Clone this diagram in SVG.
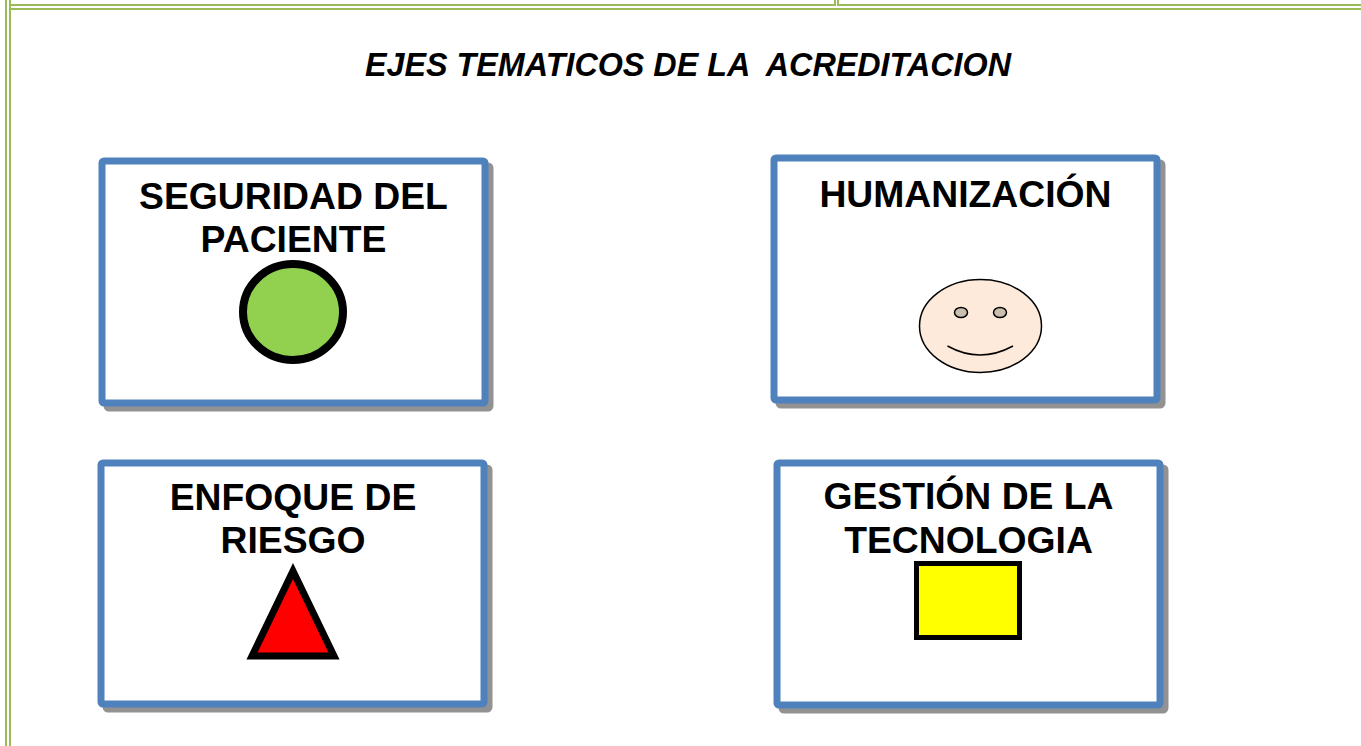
<svg xmlns="http://www.w3.org/2000/svg" width="1361" height="746" viewBox="0 0 1361 746">
<style>
text{font-family:"Liberation Sans",Arial,sans-serif;font-weight:bold;fill:#000;text-anchor:middle}
.t{font-size:37.3px}
.b{fill:#fff;stroke:#4f81bd;stroke-width:7}
.s{fill:#929292;stroke:#929292;stroke-width:7}
.g{fill:#9bbb59}
</style>
<rect width="1361" height="746" fill="#fff"/>
<g id="border">
<rect class="g" x="5" y="0" width="2" height="746"/>
<rect class="g" x="9" y="0" width="2" height="746"/>
<rect class="g" x="11" y="4" width="823" height="2"/>
<rect class="g" x="839" y="4" width="522" height="2"/>
<rect class="g" x="11" y="8" width="1350" height="2"/>
<rect class="g" x="834" y="0" width="2" height="6"/>
<rect class="g" x="837" y="0" width="2" height="6"/>
</g>
<text id="title" x="688" y="76" font-size="32.3" font-style="italic" xml:space="preserve">EJES TEMATICOS DE LA  ACREDITACION</text>
<g id="seguridad">
<rect class="s" x="107" y="166" width="383" height="242" rx="2"/>
<rect class="b" x="102" y="161" width="383" height="242" rx="2"/>
<text class="t" x="293.500" y="209">SEGURIDAD DEL</text>
<text class="t" x="293.500" y="252">PACIENTE</text>
<ellipse cx="293" cy="312" rx="50" ry="48" fill="#92d050" stroke="#000" stroke-width="8"/>
</g>
<g id="humanizacion">
<rect class="s" x="779" y="163" width="383" height="242" rx="2"/>
<rect class="b" x="774" y="158" width="383" height="242" rx="2"/>
<text class="t" x="965.500" y="207">HUMANIZACIÓN</text>
<ellipse cx="980.500" cy="326" rx="61" ry="46.500" fill="#fdeada" stroke="#000" stroke-width="1.500"/>
<ellipse cx="961" cy="312.500" rx="6.500" ry="5" fill="#cabeaf" stroke="#000" stroke-width="1.500"/>
<ellipse cx="1000" cy="312.500" rx="6.500" ry="5" fill="#cabeaf" stroke="#000" stroke-width="1.500"/>
<path d="M947.500 346Q980 364 1013 346" fill="none" stroke="#000" stroke-width="1.500"/>
</g>
<g id="enfoque">
<rect class="s" x="106" y="468" width="383" height="241" rx="2"/>
<rect class="b" x="101" y="463" width="383" height="241" rx="2"/>
<text class="t" x="293" y="510">ENFOQUE DE</text>
<text class="t" x="293" y="553">RIESGO</text>
<path d="M293 571L252 656H334Z" fill="#f00" stroke="#000" stroke-width="7"/>
</g>
<g id="gestion">
<rect class="s" x="782" y="468" width="383" height="242" rx="2"/>
<rect class="b" x="777" y="463" width="383" height="242" rx="2"/>
<text class="t" x="968.500" y="509">GESTIÓN DE LA</text>
<text class="t" x="968.500" y="553">TECNOLOGIA</text>
<rect x="916.500" y="563.500" width="103" height="74" fill="#ff0" stroke="#000" stroke-width="5"/>
</g>
<g id="connectors"/>
</svg>
